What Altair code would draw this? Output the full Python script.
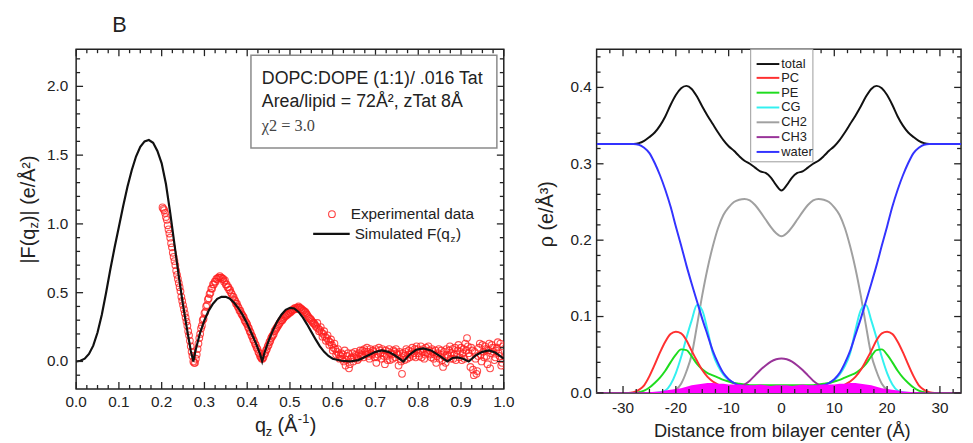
import altair as alt
import pandas as pd

FONT = "Liberation Sans"

# ---------------- left panel: |F(qz)| ----------------
sim_q = [0.000, 0.010, 0.020, 0.030, 0.040, 0.050, 0.060, 0.070, 0.080, 0.090,
         0.100, 0.110, 0.120, 0.130, 0.140, 0.150, 0.160, 0.170, 0.180, 0.190,
         0.200, 0.210, 0.220, 0.230, 0.240, 0.250, 0.260, 0.268, 0.274, 0.280,
         0.290, 0.300, 0.310, 0.320, 0.330, 0.340, 0.350, 0.360, 0.370, 0.380,
         0.390, 0.400, 0.410, 0.420, 0.430, 0.435, 0.440, 0.450, 0.460, 0.470,
         0.480, 0.490, 0.500, 0.510, 0.520, 0.530, 0.540, 0.550, 0.560, 0.570,
         0.580, 0.590, 0.600, 0.620, 0.640, 0.660, 0.680, 0.700, 0.715, 0.730,
         0.745, 0.765, 0.780, 0.795, 0.812, 0.830, 0.850, 0.868, 0.880, 0.892,
         0.905, 0.918, 0.935, 0.950, 0.965, 0.980, 1.000]
sim_F = [0.000, 0.005, 0.020, 0.055, 0.115, 0.210, 0.340, 0.500, 0.670, 0.830,
         0.980, 1.130, 1.270, 1.390, 1.490, 1.560, 1.600, 1.610, 1.590, 1.530,
         1.440, 1.290, 1.080, 0.850, 0.620, 0.410, 0.220, 0.080, 0.000, 0.090,
         0.210, 0.300, 0.370, 0.420, 0.455, 0.470, 0.470, 0.455, 0.425, 0.385,
         0.335, 0.275, 0.205, 0.135, 0.055, 0.000, 0.060, 0.150, 0.225, 0.290,
         0.340, 0.375, 0.390, 0.385, 0.360, 0.320, 0.270, 0.215, 0.160, 0.110,
         0.070, 0.040, 0.020, 0.005, 0.000, 0.010, 0.040, 0.070, 0.080, 0.070,
         0.045, 0.000, 0.050, 0.085, 0.095, 0.080, 0.040, 0.000, 0.025, 0.030,
         0.020, 0.000, 0.045, 0.070, 0.080, 0.065, 0.020]

# experimental data, scan A: q = 0.202, 0.206, ... 0.998
expA_q0, exp_dq = 0.202, 0.004
expA_F = [1.12, 1.10, 1.05, 0.99, 0.93, 0.86, 0.79, 0.73, 0.66, 0.60,
          0.54, 0.47, 0.41, 0.35, 0.29, 0.22, 0.15, 0.07, 0.00, -0.01,
          0.05, 0.13, 0.20, 0.26, 0.31, 0.36, 0.41, 0.46, 0.50, 0.53,
          0.56, 0.58, 0.60, 0.61, 0.61, 0.60, 0.58, 0.56, 0.54, 0.52,
          0.50, 0.47, 0.45, 0.42, 0.40, 0.37, 0.35, 0.33, 0.30, 0.28,
          0.25, 0.22, 0.19, 0.16, 0.13, 0.10, 0.07, 0.04, 0.02, 0.03,
          0.06, 0.09, 0.12, 0.15, 0.18, 0.20, 0.23, 0.25, 0.27, 0.29,
          0.30, 0.32, 0.33, 0.34, 0.35, 0.36, 0.37, 0.38, 0.38, 0.39,
          0.39, 0.38, 0.37, 0.36, 0.35, 0.33, 0.31, 0.30, 0.28, 0.27,
          0.25, 0.24, 0.23, 0.21, 0.20, 0.18, 0.17, 0.15, 0.14, 0.12,
          0.10, 0.09, 0.07, 0.05, 0.04, 0.02,
          0.00, -0.03, 0.04, -0.05, 0.02, 0.06, 0.03, 0.05, 0.01, 0.06,
          0.04, 0.08, 0.09, 0.05, 0.07, 0.02, 0.06, 0.08, 0.03, -0.01,
          0.05, 0.08, 0.02, 0.06, -0.02, 0.04, 0.07, 0.01, 0.05, 0.08,
          0.03, 0.06, -0.03, 0.02, -0.09, 0.04, 0.07, 0.02, 0.08, 0.05,
          0.10, 0.06, 0.03, 0.09, 0.04, 0.11, 0.07, 0.02, 0.10, 0.06,
          0.08, 0.03, 0.07, 0.05, -0.01, 0.06, 0.02, 0.08, -0.04, 0.03,
          0.09, 0.04, 0.11, 0.06, 0.02, 0.10, 0.05, 0.12, 0.07, 0.01,
          0.09, 0.13, 0.17, 0.06, -0.04, 0.08, -0.10, 0.02, -0.07, 0.10,
          0.05, 0.12, 0.03, 0.09, -0.02, 0.13, 0.06, 0.10, 0.01, 0.08,
          0.14, 0.04, -0.03, 0.11]
# experimental data, scan B: q = 0.204, 0.208, ... 0.996
expB_q0 = 0.204
expB_F = [1.11, 1.08, 1.03, 0.96, 0.90, 0.83, 0.76, 0.70, 0.63, 0.57,
          0.51, 0.44, 0.38, 0.32, 0.26, 0.19, 0.11, 0.04, -0.01, 0.02,
          0.09, 0.17, 0.24, 0.30, 0.35, 0.40, 0.45, 0.49, 0.53, 0.56,
          0.58, 0.60, 0.61, 0.62, 0.61, 0.60, 0.59, 0.56, 0.54, 0.52,
          0.49, 0.47, 0.44, 0.42, 0.39, 0.37, 0.34, 0.32, 0.29, 0.27,
          0.24, 0.21, 0.18, 0.15, 0.12, 0.09, 0.06, 0.03, 0.02, 0.05,
          0.08, 0.11, 0.14, 0.17, 0.19, 0.22, 0.24, 0.26, 0.28, 0.30,
          0.31, 0.33, 0.34, 0.35, 0.36, 0.37, 0.38, 0.39, 0.39, 0.40,
          0.39, 0.38, 0.37, 0.36, 0.34, 0.32, 0.31, 0.29, 0.28, 0.26,
          0.28, 0.22, 0.25, 0.18, 0.22, 0.15, 0.19, 0.12, 0.16, 0.08,
          0.13, 0.05, 0.09, 0.02, 0.06,
          0.05, 0.08, 0.01, 0.06, -0.02, 0.03, 0.00, 0.07, 0.04, 0.02,
          0.08, 0.05, 0.03, 0.07, 0.10, 0.04, 0.09, 0.05, 0.07, 0.09,
          0.03, 0.10, 0.06, 0.09, 0.04, 0.08, 0.01, 0.09, 0.06, 0.02,
          0.07, 0.09, 0.05, 0.07, 0.00, 0.06, 0.01, 0.09, 0.05, 0.03,
          0.07, 0.04, 0.09, 0.11, 0.06, 0.08, 0.03, 0.09, 0.05, 0.07,
          0.11, 0.05, 0.09, 0.02, 0.08, 0.04, 0.09, 0.05, 0.01, 0.07,
          -0.01, 0.05, 0.08, 0.02, 0.09, 0.05, 0.01, 0.08, 0.03, 0.10,
          0.06, 0.02, 0.08, 0.11, 0.04, 0.10, -0.06, 0.07, -0.09, 0.04,
          0.13, 0.00, 0.07, 0.11, 0.04, 0.08, -0.05, 0.12, 0.07, 0.03,
          0.10, 0.06, 0.13, -0.01]

# ---------------- right panel: electron density profiles ----------------
z = list(range(-35, 36))
total = [0.326, 0.326, 0.326, 0.326, 0.326, 0.326, 0.326, 0.326,
         0.327, 0.330, 0.335, 0.341, 0.350, 0.362, 0.377, 0.390, 0.399, 0.402,
         0.398, 0.388, 0.375, 0.363, 0.352, 0.341, 0.331, 0.323, 0.317, 0.310,
         0.304, 0.300, 0.295, 0.290, 0.288, 0.282, 0.272,
         0.265,
         0.272, 0.282, 0.288, 0.290, 0.295, 0.300, 0.304,
         0.310, 0.317, 0.323, 0.331, 0.341, 0.352, 0.363, 0.375, 0.388, 0.398,
         0.402, 0.399, 0.390, 0.377, 0.362, 0.350, 0.341, 0.335, 0.330, 0.327,
         0.326, 0.326, 0.326, 0.326, 0.326, 0.326, 0.326, 0.326]
water = [0.326, 0.326, 0.326, 0.326, 0.326, 0.326, 0.326, 0.326,
         0.325, 0.321, 0.314, 0.301, 0.285, 0.266, 0.244, 0.218, 0.193, 0.167,
         0.143, 0.120, 0.097, 0.076, 0.055, 0.039, 0.026, 0.018, 0.013, 0.010,
         0.009, 0.008, 0.008, 0.007, 0.007, 0.007, 0.007,
         0.007,
         0.007, 0.007, 0.007, 0.007, 0.008, 0.008, 0.009,
         0.010, 0.013, 0.018, 0.026, 0.039, 0.055, 0.076, 0.097, 0.120, 0.143,
         0.167, 0.193, 0.218, 0.244, 0.266, 0.285, 0.301, 0.314, 0.321, 0.325,
         0.326, 0.326, 0.326, 0.326, 0.326, 0.326, 0.326, 0.326]
ch2 = [0.0, 0.0, 0.0, 0.0, 0.0, 0.0, 0.0, 0.0, 0.0, 0.0, 0.0, 0.0, 0.0, 0.0,
       0.001, 0.004, 0.012, 0.028, 0.050, 0.088, 0.128, 0.163, 0.192, 0.216,
       0.233, 0.243, 0.250, 0.253,
       0.254, 0.252, 0.246, 0.237, 0.227, 0.217, 0.209,
       0.205,
       0.209, 0.217, 0.227, 0.237, 0.246, 0.252, 0.254,
       0.253, 0.250, 0.243, 0.233, 0.216, 0.192, 0.163, 0.128, 0.088, 0.050,
       0.028, 0.012, 0.004, 0.001,
       0.0, 0.0, 0.0, 0.0, 0.0, 0.0, 0.0, 0.0, 0.0, 0.0, 0.0, 0.0, 0.0, 0.0]
cg = [0.0, 0.0, 0.0, 0.0, 0.0, 0.0, 0.0, 0.0, 0.0, 0.0, 0.0, 0.0,
      0.001, 0.003, 0.011, 0.026, 0.047, 0.072, 0.095, 0.115, 0.108, 0.082,
      0.052, 0.035, 0.024, 0.017, 0.013, 0.011,
      0.010, 0.009, 0.009, 0.008, 0.008, 0.008, 0.008,
      0.008,
      0.008, 0.008, 0.008, 0.008, 0.009, 0.009, 0.010,
      0.011, 0.013, 0.017, 0.024, 0.035, 0.052, 0.082, 0.108, 0.115, 0.095,
      0.072, 0.047, 0.026, 0.011, 0.003, 0.001,
      0.0, 0.0, 0.0, 0.0, 0.0, 0.0, 0.0, 0.0, 0.0, 0.0, 0.0, 0.0]
pc = [0.0, 0.0, 0.0, 0.0, 0.0, 0.0, 0.0,
      0.001, 0.004, 0.010, 0.022, 0.037, 0.053, 0.067, 0.077, 0.080, 0.078,
      0.069, 0.055, 0.042, 0.030, 0.021, 0.015, 0.011, 0.008, 0.006, 0.005, 0.004,
      0.004, 0.003, 0.003, 0.003, 0.003, 0.003, 0.003,
      0.003,
      0.003, 0.003, 0.003, 0.003, 0.003, 0.003, 0.004,
      0.004, 0.005, 0.006, 0.008, 0.011, 0.015, 0.021, 0.030, 0.042, 0.055,
      0.069, 0.078, 0.080, 0.077, 0.067, 0.053, 0.037, 0.022, 0.010, 0.004, 0.001,
      0.0, 0.0, 0.0, 0.0, 0.0, 0.0, 0.0]
pe = [0.0, 0.0, 0.0, 0.0, 0.0, 0.0, 0.0, 0.0,
      0.001, 0.003, 0.007, 0.013, 0.020, 0.029, 0.040, 0.050, 0.057, 0.056,
      0.048, 0.038, 0.031, 0.026, 0.023, 0.020, 0.017, 0.015, 0.013, 0.012,
      0.011, 0.010, 0.010, 0.010, 0.010, 0.010, 0.010,
      0.010,
      0.010, 0.010, 0.010, 0.010, 0.010, 0.010, 0.011,
      0.012, 0.013, 0.015, 0.017, 0.020, 0.023, 0.026, 0.031, 0.038, 0.048,
      0.056, 0.057, 0.050, 0.040, 0.029, 0.020, 0.013, 0.007, 0.003, 0.001,
      0.0, 0.0, 0.0, 0.0, 0.0, 0.0, 0.0, 0.0]
ch3 = [0.0, 0.0, 0.0, 0.0, 0.0, 0.0, 0.0, 0.0, 0.0, 0.0, 0.0, 0.0,
       0.0, 0.0, 0.0, 0.0, 0.0, 0.0, 0.0, 0.0, 0.0, 0.0, 0.0, 0.0,
       0.001, 0.002, 0.004, 0.007, 0.011, 0.016, 0.023, 0.030, 0.036, 0.041, 0.044,
       0.045,
       0.044, 0.041, 0.036, 0.030, 0.023, 0.016, 0.011, 0.007, 0.004, 0.002, 0.001,
       0.0, 0.0, 0.0, 0.0, 0.0, 0.0, 0.0, 0.0, 0.0, 0.0, 0.0, 0.0,
       0.0, 0.0, 0.0, 0.0, 0.0, 0.0, 0.0, 0.0, 0.0, 0.0, 0.0, 0.0]
tat = [0.0, 0.0, 0.0, 0.0, 0.0, 0.0, 0.0, 0.0, 0.0,
       0.0005, 0.001, 0.0015, 0.002, 0.003, 0.004, 0.005, 0.006, 0.008, 0.010,
       0.011, 0.012, 0.013, 0.013, 0.012, 0.012, 0.011, 0.011, 0.011, 0.010,
       0.010, 0.010, 0.011, 0.010, 0.009, 0.010,
       0.010,
       0.010, 0.009, 0.010, 0.011, 0.010, 0.010, 0.010, 0.011, 0.011, 0.011,
       0.012, 0.012, 0.013, 0.013, 0.012, 0.011, 0.010, 0.008, 0.006, 0.005,
       0.004, 0.003, 0.002, 0.0015, 0.001, 0.0005,
       0.0, 0.0, 0.0, 0.0, 0.0, 0.0, 0.0, 0.0, 0.0]

series_names = ["total", "PC", "PE", "CG", "CH2", "CH3", "water"]
series_colors = ["#111111", "#ff3030", "#1edc1e", "#33f0f0", "#a0a0a0", "#993399", "#3333ff"]
series_values = [total, pc, pe, cg, ch2, ch3, water]
for s in series_values + [tat]:
    assert len(s) == len(z), len(s)
assert len(sim_q) == len(sim_F)

expA_q = [round(expA_q0 + exp_dq * i, 3) for i in range(len(expA_F))]
expB_q = [round(expB_q0 + exp_dq * i, 3) for i in range(len(expB_F))]

# tick positions and tick labels
xmajL = [0.0, 0.1, 0.2, 0.3, 0.4, 0.5, 0.6, 0.7, 0.8, 0.9, 1.0]
xlabL = ["0.0", "0.1", "0.2", "0.3", "0.4", "0.5", "0.6", "0.7", "0.8", "0.9", "1.0"]
xminL = [i * 0.025 for i in range(41) if i % 4]
ymajL = [0.0, 0.5, 1.0, 1.5, 2.0]
ylabL = ["0.0", "0.5", "1.0", "1.5", "2.0"]
yminL = [i / 10 for i in range(-1, 23) if i % 5]
xmajR = [-30, -20, -10, 0, 10, 20, 30]
xlabR = ["-30", "-20", "-10", "0", "10", "20", "30"]
xminR = [i * 2.5 for i in range(-13, 14) if i % 4]
ymajR = [0.0, 0.1, 0.2, 0.3, 0.4]
ylabR = ["0.0", "0.1", "0.2", "0.3", "0.4"]
yminR = [i / 50 for i in range(1, 23) if i % 5]

# ---------------- helpers ----------------
one = pd.DataFrame({"a": [0]})
TICK = "#222222"


def X(field, sc):
    return alt.X(field, scale=sc, axis=None)


def Y(field, sc):
    return alt.Y(field, scale=sc, axis=None)


def txt(s, x, y, size, font=FONT, align="left", baseline="middle", angle=0, color="#222222"):
    kw = dict(align=align, baseline=baseline, fontSize=size, font=font, color=color)
    if angle:
        kw["angle"] = angle
    return alt.Chart(one).mark_text(**kw).encode(x=alt.value(x), y=alt.value(y), text=alt.value(s))


def box(x1, x2, y1, y2, stroke, sw):
    return alt.Chart(one).mark_rect(fill="white", stroke=stroke, strokeWidth=sw).encode(
        x=alt.value(x1), x2=alt.value(x2), y=alt.value(y1), y2=alt.value(y2))


def seg(x1, x2, y, color, sw=2):
    return alt.Chart(one).mark_rule(color=color, strokeWidth=sw).encode(
        x=alt.value(x1), x2=alt.value(x2), y=alt.value(y))


def tick_layers(xs, ys, W, H, xmaj, xmin, ymaj, ymin):
    """Inward ticks on all four sides, drawn as short open stroke symbols."""
    out = []
    pk = dict(filled=False, strokeWidth=1.3, color=TICK, opacity=1, strokeCap="butt")
    for vals, ln in ((xmaj, 7), (xmin, 4)):
        d = pd.DataFrame({"v": vals})
        out.append(alt.Chart(d).mark_point(shape="M0,0L0,-2", size=ln * ln, **pk).encode(
            x=X("v:Q", xs), y=alt.value(H)))
        out.append(alt.Chart(d).mark_point(shape="M0,0L0,2", size=ln * ln, **pk).encode(
            x=X("v:Q", xs), y=alt.value(0)))
    for vals, ln in ((ymaj, 7), (ymin, 4)):
        d = pd.DataFrame({"v": vals})
        out.append(alt.Chart(d).mark_point(shape="M0,0L2,0", size=ln * ln, **pk).encode(
            y=Y("v:Q", ys), x=alt.value(0)))
        out.append(alt.Chart(d).mark_point(shape="M0,0L-2,0", size=ln * ln, **pk).encode(
            y=Y("v:Q", ys), x=alt.value(W)))
    return out


def label_layers(xs, ys, H, xmaj, xlab, ymaj, ylab, xlp, ylp):
    dx = pd.DataFrame({"v": xmaj, "t": xlab})
    dy = pd.DataFrame({"v": ymaj, "t": ylab})
    kw = dict(font=FONT, fontSize=15.5, color="#222222")
    return [
        alt.Chart(dx).mark_text(align="center", baseline="top", **kw).encode(
            x=X("v:Q", xs), y=alt.value(H + xlp), text="t:N"),
        alt.Chart(dy).mark_text(align="right", baseline="middle", **kw).encode(
            y=Y("v:Q", ys), x=alt.value(-ylp), text="t:N"),
    ]


# ---------------- left panel ----------------
W1, H1 = 433, 344
xsL = alt.Scale(domain=[0, 1], nice=False, zero=False)
ysL = alt.Scale(domain=[-0.2, 2.27], nice=False, zero=False)

expA = pd.DataFrame({"q": expA_q, "F": expA_F})
expB = pd.DataFrame({"q": expB_q, "F": expB_F})
sim = pd.DataFrame({"q": sim_q, "F": sim_F})

pt_kw = dict(shape="circle", filled=False, size=46, strokeWidth=1.1, color="#ff2020", opacity=0.8, clip=True)
left_layers = []
for d in (expB, expA):
    left_layers.append(alt.Chart(d).mark_point(**pt_kw).encode(x=X("q:Q", xsL), y=Y("F:Q", ysL)))
left_layers.append(alt.Chart(sim).mark_line(color="#111111", strokeWidth=2.2, clip=True).encode(
    x=X("q:Q", xsL), y=Y("F:Q", ysL)))
left_layers += tick_layers(xsL, ysL, W1, H1, xmajL, xminL, ymajL, yminL)
left_layers += label_layers(xsL, ysL, H1, xmajL, xlabL, ymajL, ylabL, 6, 8)

left_layers += [
    box(177, 426, 6, 100, "#8a8a8a", 1.5),
    txt("DOPC:DOPE (1:1)/ .016 Tat", 188, 30, 18),
    txt("Area/lipid = 72Å², zTat 8Å", 188, 54, 18),
    txt("χ2 = 3.0", 188, 78, 16.5, font="Liberation Serif", color="#444444"),
    alt.Chart(one).mark_point(shape="circle", filled=False, size=46, strokeWidth=1.1,
                              color="#ff2020", opacity=0.85).encode(x=alt.value(259), y=alt.value(167)),
    txt("Experimental data", 278, 167, 15.5),
    seg(240, 277, 187, "#111111", 2.2),
    txt("Simulated F(q", 282, 187, 15.5),
    txt("z", 379, 192, 10),
    txt(")", 384.5, 187, 15.5),
    txt("B", 44, -17, 22, align="center", baseline="alphabetic"),
    # x title  q_z (Å^-1)
    txt("q", 181, 388, 20, baseline="alphabetic"),
    txt("z", 192, 392, 13, baseline="alphabetic"),
    txt("(Å", 204, 388, 20, baseline="alphabetic"),
    txt("-1", 224.5, 378, 13, baseline="alphabetic"),
    txt(")", 236.5, 388, 20, baseline="alphabetic"),
    # y title |F(q_z)| (e/Å²)
    txt("|F(q", -48, 217, 20, angle=270),
    txt("z", -43, 181.5, 13, angle=270),
    txt(")| (e/Å²)", -48, 175, 20, angle=270),
]
left = alt.layer(*left_layers).properties(width=W1, height=H1)

# ---------------- right panel ----------------
W2, H2 = 369, 348
xsR = alt.Scale(domain=[-35, 34], nice=False, zero=False)
ysR = alt.Scale(domain=[0, 0.45], nice=False, zero=False)

right_layers = []
draw_order = ["CH2", "CG", "PE", "PC", "total", "water", "CH3"]
for name in draw_order:
    i = series_names.index(name)
    d = pd.DataFrame({"z": z, "rho": series_values[i]})
    right_layers.append(alt.Chart(d).mark_line(color=series_colors[i], strokeWidth=2,
                                               interpolate="monotone", clip=True).encode(
        x=X("z:Q", xsR), y=Y("rho:Q", ysR)))
dt = pd.DataFrame({"z": z, "rho": tat})
right_layers.append(alt.Chart(dt).mark_area(color="#ff00ff", opacity=1, clip=True).encode(
    x=X("z:Q", xsR), y=Y("rho:Q", ysR)))
right_layers += tick_layers(xsR, ysR, W2, H2, xmajR, xminR, ymajR, yminR)
right_layers += label_layers(xsR, ysR, H2, xmajR, xlabR, ymajR, ylabR, 8, 5)

legend_rows = [15, 29, 44, 59, 74, 89, 104]
right_layers.append(box(156, 219, 0, 114, "#9a9a9a", 1))
for name, col, yy in zip(series_names, series_colors, legend_rows):
    right_layers.append(seg(162, 185, yy, col, 2))
    right_layers.append(txt(name, 187, yy, 13, font="Liberation Sans Narrow, Liberation Sans"))
right_layers += [
    txt("Distance from bilayer center (Å)", 188, 393, 18.5, align="center", baseline="alphabetic"),
    txt("ρ (e/Å³)", -50, 167, 20, align="center", angle=270),
]
right = alt.layer(*right_layers).properties(width=W2, height=H2)

chart = alt.hconcat(left, right, spacing=94, bounds="flush").properties(
    padding={"left": 10, "top": 3, "right": 0, "bottom": 0},
    background="white",
).configure_view(stroke="#222222", strokeWidth=1.5)

chart.save("out.html", embed_options={"renderer": "svg", "actions": False})
